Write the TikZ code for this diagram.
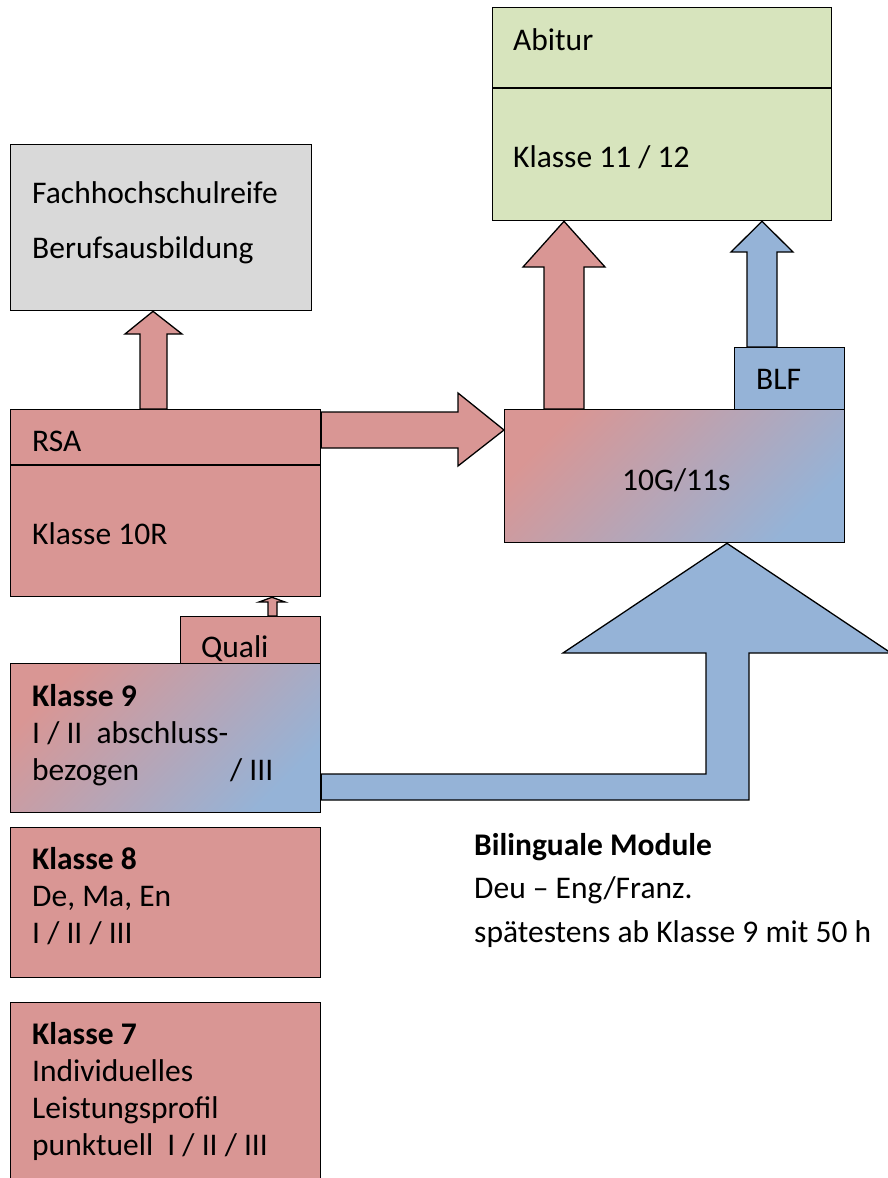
\documentclass[tikz,border=0pt]{standalone}
\usepackage{fontspec}
\setmainfont{Carlito}
\definecolor{boxred}{HTML}{D99694}
\definecolor{boxblue}{HTML}{95B3D7}
\definecolor{boxgreen}{HTML}{D7E4BD}
\definecolor{boxgrey}{HTML}{D9D9D9}
\tikzset{
  box/.style={draw, line width=1.3pt, anchor=north west, inner sep=0pt},
  mixbox/.style={box, top color=boxred, bottom color=boxblue, shading angle=45},
  blockarrow/.style={draw, line width=1.3pt, line join=miter},
  txt/.style={anchor=base west, inner sep=0pt, align=left},
}
\begin{document}
\begin{tikzpicture}[x=1pt, y=-1pt,
  every node/.style={font=\fontsize{31.5}{37}\selectfont}]
    \useasboundingbox (0,0) rectangle (887,1178);
    % boxes
    \node[box, fill=boxgreen, minimum width=339pt, minimum height=213pt] (abitur) at (492,7) {};
    \node[box, fill=boxgrey, minimum width=301pt, minimum height=166pt] (fhr) at (10,144) {};
    \node[box, fill=boxred, minimum width=310pt, minimum height=187pt] (rsa) at (10,409) {};
    \node[mixbox, minimum width=340pt, minimum height=133pt] (g10) at (504,409) {};
    \node[box, fill=boxblue, minimum width=110pt, minimum height=62pt] (blf) at (734,347) {};
    \node[box, fill=boxred, minimum width=140pt, minimum height=47pt] (quali) at (180,616) {};
    \node[mixbox, minimum width=310pt, minimum height=149pt] (k9) at (10,663) {};
    \node[box, fill=boxred, minimum width=310pt, minimum height=150pt] (k8) at (10,827) {};
    \node[box, fill=boxred, minimum width=310pt, minimum height=190pt] (k7) at (10,1002) {};
    \draw[line width=1.3pt] (abitur.west |- 0,88) -- (abitur.east |- 0,88);
    \draw[line width=1.3pt] (rsa.west |- 0,465) -- (rsa.east |- 0,465);

    % arrows
    \draw[blockarrow, fill=boxred] (140,0 |- rsa.north) -- (140,334) -- (125,334) -- (153,0 |- fhr.south)
        -- (182,334) -- (167,334) -- (167,0 |- rsa.north) -- cycle;
    \draw[blockarrow, fill=boxred] (rsa.east |- 0,412) -- (458,412) -- (458,393) -- (g10.west |- 0,430)
        -- (458,466) -- (458,448) -- (rsa.east |- 0,448) -- cycle;
    \draw[blockarrow, fill=boxred] (544,0 |- g10.north) -- (544,267) -- (523,267) -- (564,0 |- abitur.south)
        -- (605,267) -- (584,267) -- (584,0 |- g10.north) -- cycle;
    \draw[blockarrow, fill=boxblue] (747,0 |- blf.north) -- (747,252) -- (731,252) -- (762,0 |- abitur.south)
        -- (793,252) -- (777,252) -- (777,0 |- blf.north) -- cycle;
    \draw[blockarrow, fill=boxred] (268,0 |- quali.north) -- (268,602) -- (259,602) -- (272,0 |- rsa.south)
        -- (285,602) -- (277,602) -- (277,0 |- quali.north) -- cycle;
    \draw[blockarrow, fill=boxblue] (k9.east |- 0,774) -- (706,774) -- (706,653) -- (563,653) -- (727,0 |- g10.south)
        -- (891,653) -- (749,653) -- (749,800) -- (k9.east |- 0,800) -- cycle;

    % texts (base = last line)
    \node[txt] (abiturtext) at (513,50) {Abitur};
    \node[txt] (k11text) at (513,167) {Klasse 11 / 12};
    \node[txt] (fhrtext) at (32,258) {Fachhochschulreife\\[18pt]Berufsausbildung};
    \node[txt] (rsatext) at (32,451) {RSA};
    \node[txt] (k10text) at (32,544) {Klasse 10R};
    \node[txt] (blftext) at (756,389) {BLF};
    \node[txt] (g10text) at (622,490) {10G/11s};
    \node[txt] (qualitext) at (201,657) {Quali};
    \node[txt] (k9text) at (32,780) {\textbf{Klasse 9}\\I / II\ \ abschluss-\\bezogen};
    \node[txt] (k9tail) at (230,780) {/ III};
    \node[txt] (k8text) at (32,943) {\textbf{Klasse 8}\\De, Ma, En\\I / II / III};
    \node[txt] (k7text) at (32,1155) {\textbf{Klasse 7}\\Individuelles\\Leistungsprofil\\punktuell\ \ I / II / III};
    \node[txt] (biltext) at (474,942) {\textbf{Bilinguale Module}\\[6.5pt]Deu – Eng/Franz.\\[6.5pt]spätestens ab Klasse 9 mit 50 h};
\end{tikzpicture}
\end{document}
